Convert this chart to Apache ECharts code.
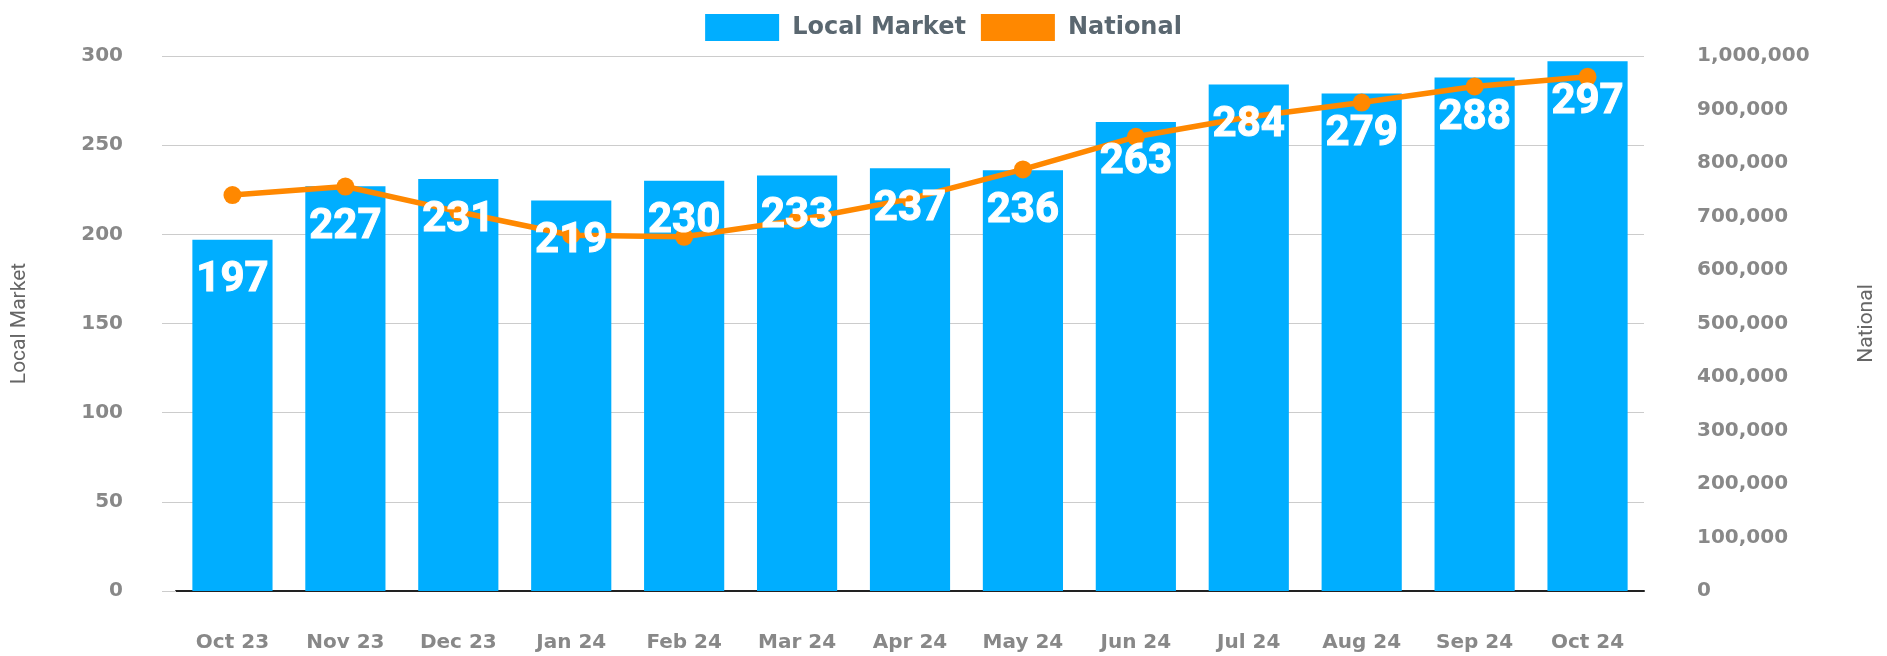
<!DOCTYPE html>
<html>
<head>
<meta charset="utf-8">
<script src="https://cdn.jsdelivr.net/npm/echarts@6/dist/echarts.min.js"></script>
<style>
  html, body { margin: 0; padding: 0; background: #fff; }
  #chart { width: 1887px; height: 656px; }
</style>
</head>
<body>
<div id="chart"></div>
<script>
const months = ["Oct 23", "Nov 23", "Dec 23", "Jan 24", "Feb 24", "Mar 24", "Apr 24",
  "May 24", "Jun 24", "Jul 24", "Aug 24", "Sep 24", "Oct 24"];
const localMarket = [197, 227, 231, 219, 230, 233, 237, 236, 263, 284, 279, 288, 297];
const national = [740000, 756000, 709000, 665000, 662000, 693000, 733000,
  788000, 849000, 886000, 913000, 943000, 961000];

const axisFont = "DejaVu Sans";
const chart = echarts.init(document.getElementById("chart"));

chart.setOption({
  animation: false,
  legend: {
    data: ["Local Market", "National"],
    top: 9,
    left: "center",
    itemWidth: 74,
    itemHeight: 27,
    itemGap: 15,
    icon: "rect",
    textStyle: {
      color: "#5a6770",
      fontFamily: axisFont,
      fontWeight: "bold",
      fontSize: 24,
      padding: [0, 0, 0, 8]
    }
  },
  grid: { left: 176, right: 243, top: 56, bottom: 65 },
  xAxis: {
    type: "category",
    data: months,
    axisLine: { lineStyle: { color: "#222", width: 2 } },
    axisTick: { show: false },
    axisLabel: {
      color: "#888",
      fontFamily: axisFont,
      fontWeight: "bold",
      fontSize: 20,
      margin: 42
    }
  },
  yAxis: [
    {
      type: "value",
      name: "Local Market",
      nameLocation: "middle",
      nameGap: 146,
      nameTextStyle: { color: "#666", fontFamily: "Roboto", fontSize: 21 },
      min: 0,
      max: 300,
      interval: 50,
      axisLine: { show: false },
      axisTick: { show: true, length: 14, lineStyle: { color: "#ccc" } },
      splitLine: { lineStyle: { color: "#ccc" } },
      axisLabel: {
        color: "#888",
        fontFamily: axisFont,
        fontWeight: "bold",
        fontSize: 20,
        margin: 53
      }
    },
    {
      type: "value",
      name: "National",
      nameLocation: "middle",
      nameGap: 212,
      nameTextStyle: { color: "#666", fontFamily: "Roboto", fontSize: 21 },
      min: 0,
      max: 1000000,
      interval: 100000,
      axisLine: { show: false },
      axisTick: { show: false },
      splitLine: { show: false },
      axisLabel: {
        color: "#888",
        fontFamily: axisFont,
        fontWeight: "bold",
        fontSize: 20,
        margin: 53,
        formatter: v => v.toLocaleString("en-US")
      }
    }
  ],
  series: [
    {
      name: "Local Market",
      type: "bar",
      data: localMarket,
      barWidth: "71%",
      itemStyle: { color: "#00aeff" },
      z: 1
    },
    {
      name: "National",
      type: "line",
      yAxisIndex: 1,
      data: national,
      symbol: "circle",
      symbolSize: 18,
      lineStyle: { color: "#ff8800", width: 5.5 },
      itemStyle: { color: "#ff8800" },
      z: 2
    },
    {
      // label layer on top of the line
      name: "labels",
      type: "bar",
      data: localMarket,
      barWidth: "71%",
      barGap: "-100%",
      itemStyle: { color: "rgba(0,0,0,0)" },
      label: {
        show: true,
        position: "insideTop",
        distance: 20,
        color: "#fff",
        fontFamily: "Roboto",
        fontWeight: "bold",
        fontSize: 42,
        textBorderColor: "#fff",
        textBorderWidth: 1
      },
      silent: true,
      z: 3
    }
  ]
});
</script>
</body>
</html>
